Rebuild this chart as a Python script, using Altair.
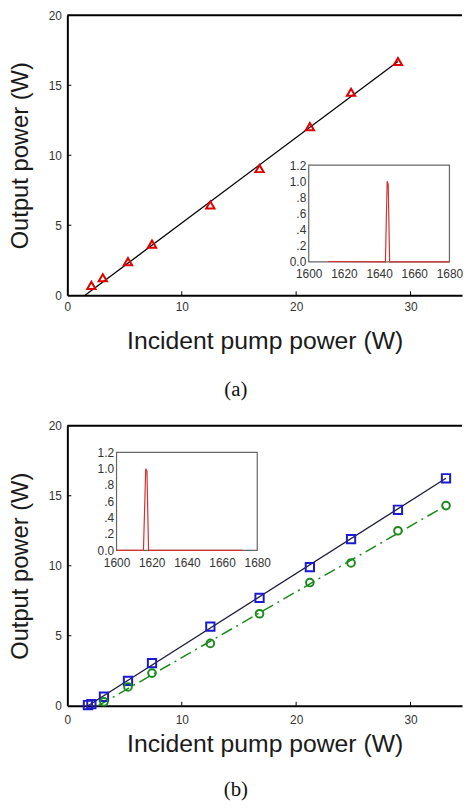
import altair as alt
import pandas as pd

# ---------------- data ----------------
# Panel (a)
a_pump = [2.1, 3.1, 5.3, 7.4, 12.5, 16.8, 21.2, 24.8, 28.9]
a_out = [0.7, 1.25, 2.4, 3.65, 6.45, 9.05, 12.05, 14.5, 16.7]
a_fit_x = [1.55, 28.9]
a_fit_y = [0.0, 16.7]
a_spec_wl = [1611, 1643.6, 1644.6, 1645.2, 1646.0, 1680]
a_spec_int = [0.005, 0.0, 1.0, 0.96, 0.0, 0.0]

# Panel (b)
b_pump_sq = [1.8, 2.1, 3.2, 5.3, 7.4, 12.5, 16.8, 21.2, 24.8, 28.9, 33.1]
b_out_sq = [0.05, 0.12, 0.64, 1.77, 3.04, 5.65, 7.7, 9.9, 11.9, 14.0, 16.25]
b_pump_ci = [3.2, 5.3, 7.4, 12.5, 16.8, 21.2, 24.8, 28.9, 33.1]
b_out_ci = [0.28, 1.34, 2.33, 4.45, 6.57, 8.8, 10.2, 12.5, 14.3]
b_fit_sq_x = [1.8, 33.1]
b_fit_sq_y = [0.0, 16.25]
b_fit_ci_x = [2.7, 33.1]
b_fit_ci_y = [0.0, 14.3]
b_spec_wl = [1600, 1615.3, 1616.6, 1617.3, 1618.2, 1671.5]
b_spec_int = [0.0, 0.0, 1.0, 0.97, 0.0, 0.0]

x_ticks = [0, 10, 20, 30]
y_ticks = [0, 5, 10, 15, 20]
inset_x_ticks = [1600, 1620, 1640, 1660, 1680]
inset_y_ticks = [0, 0.2, 0.4, 0.6, 0.8, 1.0, 1.2]

# ---------------- layout ----------------
W = 399
XMAX = 34.5
YMAX = 20
SANS = "Liberation Sans"


def px(x):
    return x / XMAX * W


def py(y, H):
    return H - y / YMAX * H


def main_x_axis(label_pad, title_pad):
    return alt.Axis(values=x_ticks, labelFlush=False, grid=False, ticks=False, tickSize=0,
                    domainColor="black", domainWidth=2,
                    labelFontSize=12, labelColor="#333", labelFont=SANS,
                    labelPadding=label_pad,
                    title="Incident pump power (W)", titleFontSize=25,
                    titleFontWeight="normal", titleColor="#1a1a1a", titleFont=SANS,
                    titlePadding=title_pad)


MAIN_Y_AXIS = alt.Axis(values=y_ticks, grid=False, ticks=False, tickSize=0,
                       domainColor="black", domainWidth=2, labelFontSize=12,
                       labelColor="#333", labelFont=SANS, labelPadding=6,
                       title="Output power (W)", titleFontSize=24, titleFontWeight="normal",
                       titleColor="#1a1a1a", titleFont=SANS, titlePadding=16)


def xe(field, axis):
    return alt.X(field, type="quantitative",
                 scale=alt.Scale(domain=[0, XMAX], nice=False, zero=False), axis=axis)


def ye(field):
    return alt.Y(field, type="quantitative",
                 scale=alt.Scale(domain=[0, YMAX], nice=False), axis=MAIN_Y_AXIS)


def frame_layers(xaxis):
    # top border line
    top_df = pd.DataFrame({"pump": [0], "pump2": [XMAX], "out": [YMAX]})
    top = alt.Chart(top_df).mark_rule(color="black", strokeWidth=2).encode(
        x=xe("pump", xaxis), x2="pump2", y=ye("out"))
    # short inward ticks
    xt_df = pd.DataFrame({"pump": x_ticks[1:], "out": [0] * 3, "out2": [0.28] * 3})
    xt = alt.Chart(xt_df).mark_rule(color="black", strokeWidth=1).encode(
        x=xe("pump", xaxis), y=ye("out"), y2="out2")
    yt_df = pd.DataFrame({"pump": [0] * 4, "pump2": [0.35] * 4, "out": y_ticks[1:]})
    yt = alt.Chart(yt_df).mark_rule(color="black", strokeWidth=1).encode(
        x=xe("pump", xaxis), x2="pump2", y=ye("out"))
    return [top, xt, yt]


def inset(wl, inten, x_lo, x_hi, y_lo, y_hi, H):
    xr = [px(x_lo), px(x_hi)]
    yr = [py(y_lo, H), py(y_hi, H)]
    xs = alt.Scale(domain=[1600, 1680], range=xr, nice=False, zero=False)
    ys = alt.Scale(domain=[0, 1.2], range=yr, nice=False)
    ax_x = alt.Axis(orient="bottom", offset=-(H - yr[0]), values=inset_x_ticks, format="d",
                    labelFlush=False, ticks=False, tickSize=0, domain=False, grid=False,
                    labelFontSize=12, labelColor="#333", labelFont=SANS, labelPadding=7,
                    title="")
    ax_y = alt.Axis(orient="left", offset=-xr[0], values=inset_y_ticks,
                    ticks=False, tickSize=0, domain=False, grid=False,
                    labelFontSize=12, labelColor="#333", labelFont=SANS, labelPadding=3,
                    labelExpr="datum.value == 0 ? '0.0' : (datum.value >= 1 ? format(datum.value, '.1f') : replace(format(datum.value, '.1f'), '0.', '.'))",
                    title="")
    frame_df = pd.DataFrame({"wl": [1600], "wl2": [1680], "I": [0], "I2": [1.2]})
    frame = alt.Chart(frame_df).mark_rect(fill="white", stroke="#666", strokeWidth=1.2).encode(
        x=alt.X("wl:Q", scale=xs, axis=ax_x), x2="wl2",
        y=alt.Y("I:Q", scale=ys, axis=ax_y), y2="I2")
    spec_df = pd.DataFrame({"wl": wl, "I": inten})
    spec = alt.Chart(spec_df).mark_line(color="#d83030", strokeWidth=1.2).encode(
        x=alt.X("wl:Q", scale=xs, axis=ax_x), y=alt.Y("I:Q", scale=ys, axis=ax_y))
    return alt.layer(frame, spec)


def caption(text, offset):
    return alt.TitleParams(text=text, orient="bottom", anchor="middle", frame="bounds",
                           font="Liberation Serif", fontSize=21, fontWeight="normal",
                           color="#111", offset=offset)


# ---------------- panel (a) ----------------
HA = 283
ax_a = main_x_axis(6, 17)
df_a = pd.DataFrame({"pump": a_pump, "out": a_out})
df_a_fit = pd.DataFrame({"pump": a_fit_x, "out": a_fit_y})

a_fit = alt.Chart(df_a_fit).mark_line(color="black", strokeWidth=1.3).encode(
    x=xe("pump", ax_a), y=ye("out"))
a_pts = alt.Chart(df_a).mark_point(shape="triangle-up", filled=False, color="#e00000",
                                   strokeWidth=2, size=70, opacity=1).encode(
    x=xe("pump", ax_a), y=ye("out"))
main_a = alt.layer(a_fit, a_pts, *frame_layers(ax_a))
panel_a = alt.layer(main_a, inset(a_spec_wl, a_spec_int, 21.1, 33.4, 2.38, 9.3, HA)).resolve_scale(
    x="independent", y="independent").properties(width=W, height=HA, title=caption("(a)", 26))

# ---------------- panel (b) ----------------
HB = 283
ax_b = main_x_axis(9, 6)
df_b_sq = pd.DataFrame({"pump": b_pump_sq, "out": b_out_sq})
df_b_ci = pd.DataFrame({"pump": b_pump_ci, "out": b_out_ci})
df_b_fsq = pd.DataFrame({"pump": b_fit_sq_x, "out": b_fit_sq_y})
df_b_fci = pd.DataFrame({"pump": b_fit_ci_x, "out": b_fit_ci_y})

b_fsq = alt.Chart(df_b_fsq).mark_line(color="#1a1a3a", strokeWidth=1.3).encode(
    x=xe("pump", ax_b), y=ye("out"))
b_fci = alt.Chart(df_b_fci).mark_line(color="#1a8a1a", strokeWidth=1.5,
                                      strokeDash=[12, 5, 2, 5]).encode(
    x=xe("pump", ax_b), y=ye("out"))
b_sq = alt.Chart(df_b_sq).mark_point(shape="square", filled=False, color="#1a1ad0",
                                     strokeWidth=2, size=70, opacity=1).encode(
    x=xe("pump", ax_b), y=ye("out"))
b_ci = alt.Chart(df_b_ci).mark_point(shape="circle", filled=False, color="#1a8a1a",
                                     strokeWidth=2, size=60, opacity=1).encode(
    x=xe("pump", ax_b), y=ye("out"))
main_b = alt.layer(b_fsq, b_fci, b_sq, b_ci, *frame_layers(ax_b))
panel_b = alt.layer(main_b, inset(b_spec_wl, b_spec_int, 4.3, 16.6, 11.1, 18.1, HB)).resolve_scale(
    x="independent", y="independent").properties(width=W, height=HB, title=caption("(b)", 23))

chart = alt.vconcat(panel_a, panel_b, spacing=20).properties(
    padding={"left": 0, "top": -3, "right": 0, "bottom": 0},
    background="white",
).configure_view(strokeWidth=0)

chart.save("out.html", embed_options={"renderer": "svg", "actions": False})
